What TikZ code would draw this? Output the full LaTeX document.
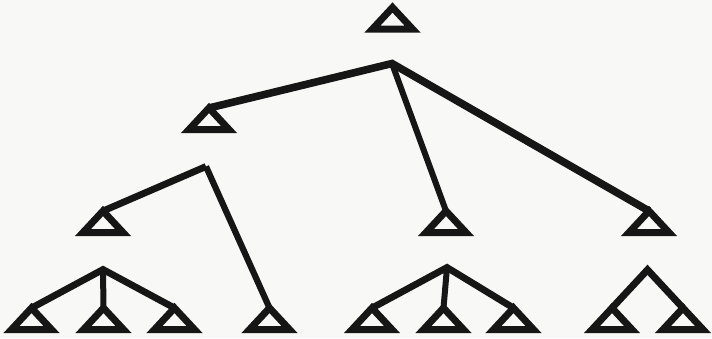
\documentclass[tikz,border=0pt]{standalone}
\definecolor{bgc}{RGB}{248,248,246}
\definecolor{ink}{RGB}{22,22,22}
\tikzset{
  tristyle/.style={draw=ink,line width=7pt,line join=miter,miter limit=10},
  tri/.pic={\draw[tristyle] (0,0) -- (-20,21.5) -- (20,21.5) -- cycle;},
  conn/.style={draw=ink,line width=6.8pt,line join=miter,miter limit=10},
}
\begin{document}
\begin{tikzpicture}[x=1pt,y=-1pt]
\fill[bgc] (0,0) rectangle (712,338);
\useasboundingbox (0,0) rectangle (712,338);
% triangle apexes
\coordinate (t0) at (392.5,7.5);
\coordinate (t1) at (209,108);
\coordinate (t2) at (446,211);
\coordinate (t3) at (649,211);
\coordinate (t4) at (103,211);
\coordinate (b1) at (31.5,308);
\coordinate (b2) at (103.5,308);
\coordinate (b3) at (174.5,308);
\coordinate (b4) at (269.5,308);
\coordinate (b5) at (372,308);
\coordinate (b6) at (443.5,308);
\coordinate (b7) at (513.5,308);
\coordinate (b8) at (612,308);
\coordinate (b9) at (683,308);
% branch points
\coordinate (n1) at (392,63.5);
\coordinate (n2) at (206,166.5);
\coordinate (n3) at (103,269.5);
\coordinate (n4) at (447,267.5);
\coordinate (n5) at (647.5,269.8);
% triangles
\foreach \t in {t0,t1,t2,t3,t4,b1,b2,b3,b4,b5,b6,b7,b8,b9}
  \pic at (\t) {tri};
% connectors
\draw[conn,line width=7.6pt] (t1) -- (n1) -- (t3);
\draw[conn,line width=6pt] (n1) -- (t2);
\draw[conn] (t4) -- (n2);
\draw[conn,line width=6.2pt] (n2) -- (b4);
\draw[conn] (b1) -- (n3) -- (b3);
\draw[conn,line width=6pt] (n3) -- (b2);
\draw[conn] (b5) -- (n4) -- (b7);
\draw[conn,line width=6pt] (n4) -- (b6);
\draw[conn,line width=7pt] (b8) -- (n5) -- (b9);
\end{tikzpicture}
\end{document}
